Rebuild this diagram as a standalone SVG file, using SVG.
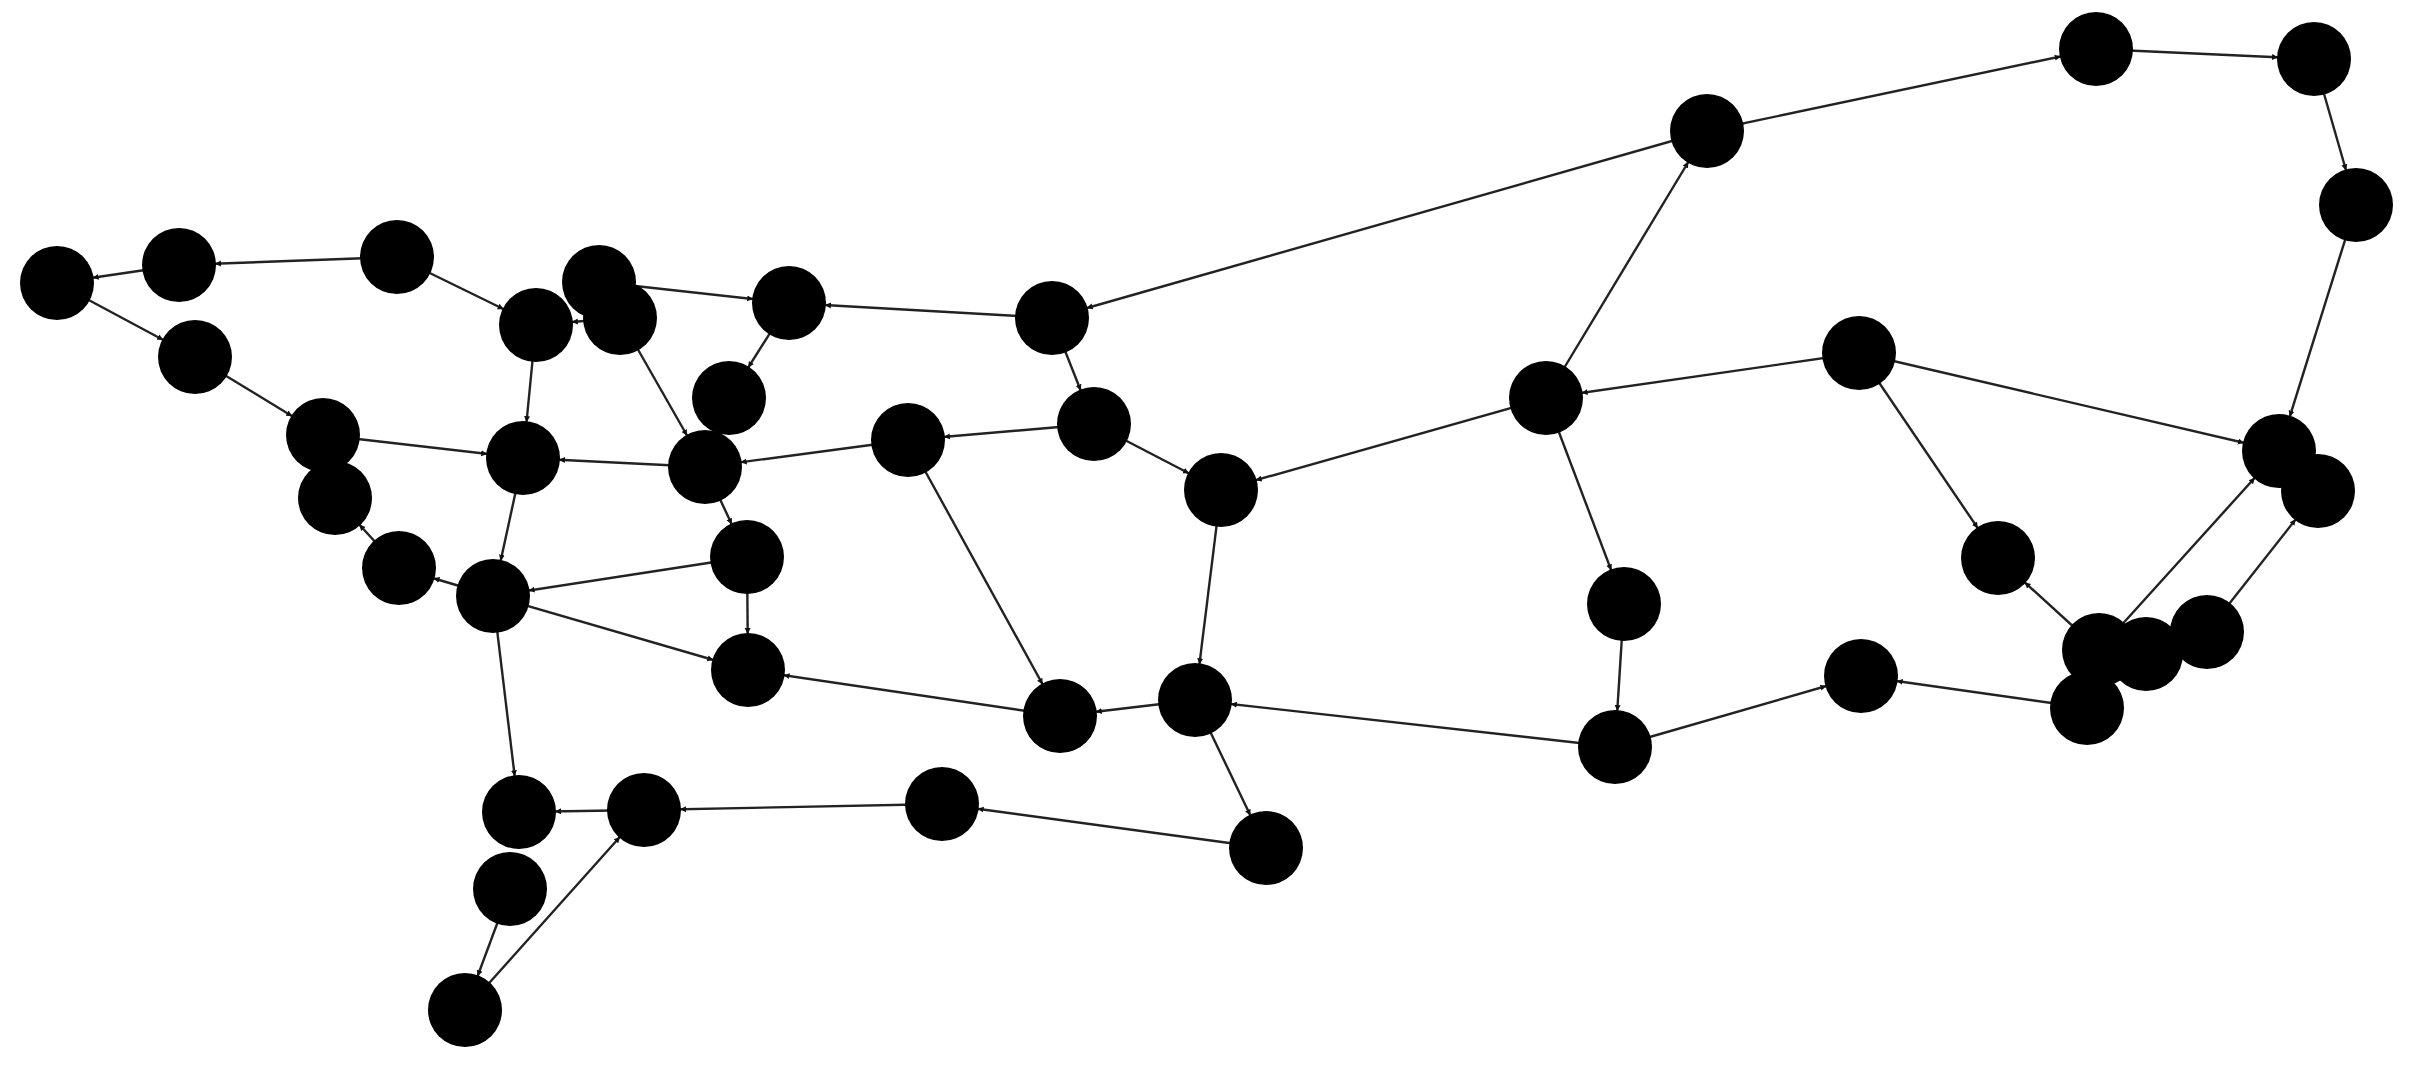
<svg xmlns="http://www.w3.org/2000/svg" width="2416" height="1067" viewBox="0 0 2416 1067">
<style>
.bg{fill:#ffffff}
.node circle{fill:#000000}
#connectors line{stroke:#222222;stroke-width:2.4;fill:none;marker-end:url(#arr)}
</style>
<defs>
<marker id="arr" markerUnits="userSpaceOnUse" viewBox="0 0 50 10" markerWidth="50" markerHeight="10" refX="42" refY="5" orient="auto">
<path d="M0,2 L6,5 L0,8 Z" fill="#111111"/>
</marker>
</defs>
<rect class="bg" x="0" y="0" width="2416" height="1067"/>
<g id="connectors">
<line x1="179" y1="265" x2="57" y2="283"/>
<line x1="57" y1="283" x2="195" y2="357"/>
<line x1="397" y1="257" x2="179" y2="265"/>
<line x1="397" y1="257" x2="536" y2="325"/>
<line x1="195" y1="357" x2="323" y2="435"/>
<line x1="323" y1="435" x2="523" y2="458"/>
<line x1="536" y1="325" x2="523" y2="458"/>
<line x1="705" y1="467" x2="523" y2="458"/>
<line x1="620" y1="318" x2="536" y2="325"/>
<line x1="599" y1="282" x2="789" y2="303"/>
<line x1="789" y1="303" x2="729" y2="398"/>
<line x1="620" y1="318" x2="705" y2="467"/>
<line x1="908" y1="440" x2="705" y2="467"/>
<line x1="1094" y1="424" x2="908" y2="440"/>
<line x1="1052" y1="318" x2="789" y2="303"/>
<line x1="1052" y1="318" x2="1094" y2="424"/>
<line x1="1094" y1="424" x2="1221" y2="490"/>
<line x1="908" y1="440" x2="1060" y2="716"/>
<line x1="1221" y1="490" x2="1195" y2="700"/>
<line x1="705" y1="467" x2="747" y2="557"/>
<line x1="747" y1="557" x2="748" y2="670"/>
<line x1="747" y1="557" x2="493" y2="596"/>
<line x1="493" y1="596" x2="748" y2="670"/>
<line x1="523" y1="458" x2="493" y2="596"/>
<line x1="399" y1="568" x2="335" y2="498"/>
<line x1="493" y1="596" x2="399" y2="568"/>
<line x1="1060" y1="716" x2="748" y2="670"/>
<line x1="1195" y1="700" x2="1060" y2="716"/>
<line x1="1195" y1="700" x2="1266" y2="848"/>
<line x1="1615" y1="747" x2="1195" y2="700"/>
<line x1="493" y1="596" x2="519" y2="812"/>
<line x1="644" y1="810" x2="519" y2="812"/>
<line x1="942" y1="804" x2="644" y2="810"/>
<line x1="1266" y1="848" x2="942" y2="804"/>
<line x1="510" y1="889" x2="465" y2="1010"/>
<line x1="465" y1="1010" x2="644" y2="810"/>
<line x1="1707" y1="131" x2="1052" y2="318"/>
<line x1="1707" y1="131" x2="2096" y2="49"/>
<line x1="2096" y1="49" x2="2314" y2="59"/>
<line x1="2314" y1="59" x2="2356" y2="205"/>
<line x1="2356" y1="205" x2="2279" y2="451"/>
<line x1="1546" y1="398" x2="1707" y2="131"/>
<line x1="1546" y1="398" x2="1221" y2="490"/>
<line x1="1859" y1="353" x2="1546" y2="398"/>
<line x1="1859" y1="353" x2="2279" y2="451"/>
<line x1="1859" y1="353" x2="1998" y2="558"/>
<line x1="1546" y1="398" x2="1624" y2="604"/>
<line x1="1624" y1="604" x2="1615" y2="747"/>
<line x1="1615" y1="747" x2="1861" y2="676"/>
<line x1="2087" y1="708" x2="1861" y2="676"/>
<line x1="2099" y1="650" x2="1998" y2="558"/>
<line x1="2099" y1="650" x2="2279" y2="451"/>
<line x1="2207" y1="632" x2="2318" y2="491"/>
</g>
<g id="n1" class="node"><circle cx="57" cy="283" r="37"/></g>
<g id="n2" class="node"><circle cx="179" cy="265" r="37"/></g>
<g id="n3" class="node"><circle cx="397" cy="257" r="37"/></g>
<g id="n4" class="node"><circle cx="195" cy="357" r="37"/></g>
<g id="n5" class="node"><circle cx="536" cy="325" r="37"/></g>
<g id="n6" class="node"><circle cx="599" cy="282" r="37"/></g>
<g id="n7" class="node"><circle cx="620" cy="318" r="37"/></g>
<g id="n8" class="node"><circle cx="789" cy="303" r="37"/></g>
<g id="n9" class="node"><circle cx="1052" cy="318" r="37"/></g>
<g id="n10" class="node"><circle cx="729" cy="398" r="37"/></g>
<g id="n11" class="node"><circle cx="323" cy="435" r="37"/></g>
<g id="n12" class="node"><circle cx="523" cy="458" r="37"/></g>
<g id="n13" class="node"><circle cx="705" cy="467" r="37"/></g>
<g id="n14" class="node"><circle cx="908" cy="440" r="37"/></g>
<g id="n15" class="node"><circle cx="1094" cy="424" r="37"/></g>
<g id="n16" class="node"><circle cx="1221" cy="490" r="37"/></g>
<g id="n17" class="node"><circle cx="335" cy="498" r="37"/></g>
<g id="n18" class="node"><circle cx="399" cy="568" r="37"/></g>
<g id="n19" class="node"><circle cx="493" cy="596" r="37"/></g>
<g id="n20" class="node"><circle cx="747" cy="557" r="37"/></g>
<g id="n21" class="node"><circle cx="748" cy="670" r="37"/></g>
<g id="n22" class="node"><circle cx="1060" cy="716" r="37"/></g>
<g id="n23" class="node"><circle cx="1195" cy="700" r="37"/></g>
<g id="n24" class="node"><circle cx="519" cy="812" r="37"/></g>
<g id="n25" class="node"><circle cx="644" cy="810" r="37"/></g>
<g id="n26" class="node"><circle cx="942" cy="804" r="37"/></g>
<g id="n27" class="node"><circle cx="1266" cy="848" r="37"/></g>
<g id="n28" class="node"><circle cx="510" cy="889" r="37"/></g>
<g id="n29" class="node"><circle cx="465" cy="1010" r="37"/></g>
<g id="n30" class="node"><circle cx="1707" cy="131" r="37"/></g>
<g id="n31" class="node"><circle cx="2096" cy="49" r="37"/></g>
<g id="n32" class="node"><circle cx="2314" cy="59" r="37"/></g>
<g id="n33" class="node"><circle cx="2356" cy="205" r="37"/></g>
<g id="n34" class="node"><circle cx="1546" cy="398" r="37"/></g>
<g id="n35" class="node"><circle cx="1859" cy="353" r="37"/></g>
<g id="n36" class="node"><circle cx="2279" cy="451" r="37"/></g>
<g id="n37" class="node"><circle cx="2318" cy="491" r="37"/></g>
<g id="n38" class="node"><circle cx="1998" cy="558" r="37"/></g>
<g id="n39" class="node"><circle cx="1624" cy="604" r="37"/></g>
<g id="n40" class="node"><circle cx="1615" cy="747" r="37"/></g>
<g id="n41" class="node"><circle cx="1861" cy="676" r="37"/></g>
<g id="n42" class="node"><circle cx="2207" cy="632" r="37"/></g>
<g id="n43" class="node"><circle cx="2099" cy="650" r="37"/></g>
<g id="n44" class="node"><circle cx="2146" cy="654" r="37"/></g>
<g id="n45" class="node"><circle cx="2087" cy="708" r="37"/></g>
</svg>
